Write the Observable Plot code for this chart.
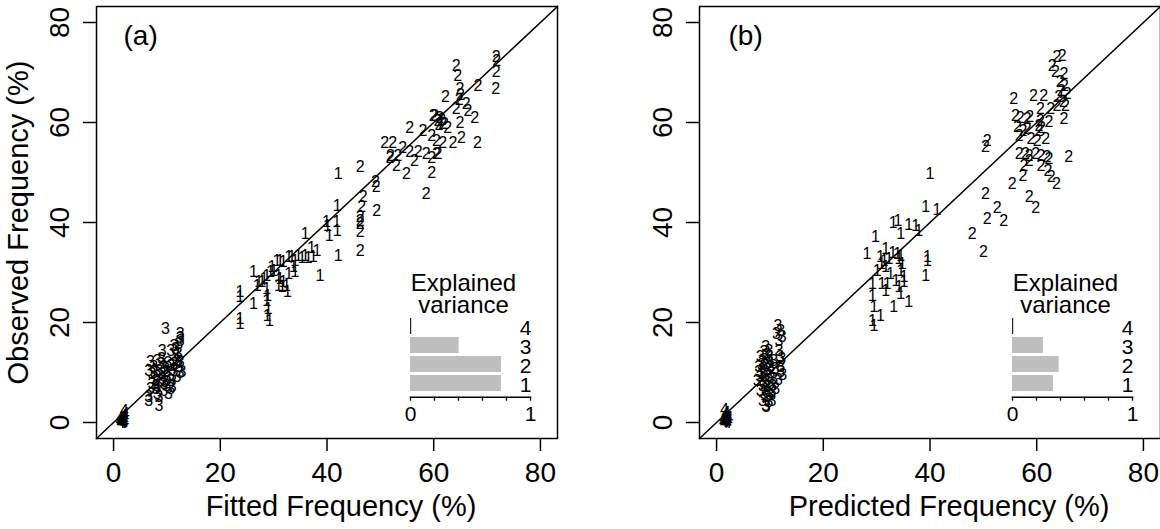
<!DOCTYPE html>
<html><head><meta charset="utf-8">
<script src="https://cdn.jsdelivr.net/npm/d3@7"></script>
<script src="https://cdn.jsdelivr.net/npm/@observablehq/plot@0.6"></script>
<style>
body{margin:0;background:#fff;}
#wrap{position:relative;width:1160px;height:529px;overflow:hidden;background:#fff;}
#row{display:flex;}
#row svg{display:block;}
.inset{position:absolute;}
.inset svg{display:block;}
</style></head><body>
<div id="wrap"><div id="row"></div></div>
<script>
const FONT = '"Liberation Sans", Arial, Helvetica, sans-serif';
const axisTicks = [0, 20, 40, 60, 80];
const axisDomain = [-3.2, 83.2];
const components = ["4", "3", "2", "1"];
const varianceA = [0.01, 0.405, 0.758, 0.758];
const varianceB = [0.01, 0.258, 0.389, 0.342];
const insetTicks = [0, 0.2, 0.4, 0.6, 0.8, 1];
const panelTags = ["(a)", "(b)"];
const xTitles = ["Fitted Frequency (%)", "Predicted Frequency (%)"];
const yTitle = "Observed Frequency (%)";
const insetTitle = "Explained\nvariance";

// Panel (a): [fitted, observed]
const a1 = [[42.1,49.7],[41.9,43.4],[41.8,40.1],[41.9,38.4],[39.9,40.1],[40.1,39.4],[40.4,37.4],[35.9,37.7],[42.1,33.4],[38.7,29.4],
 [38.1,34.3],[37.1,34.9],[37.4,33.1],[36.5,32.9],[35.9,33.4],[35.3,32.9],[34.6,33.4],[34.0,32.4],[33.4,33.1],[32.8,33.1],
 [33.7,31.1],[34.0,30.1],[32.8,29.8],[32.4,27.4],[32.6,26.1],[31.8,32.1],[31.2,32.4],[30.6,32.4],[30.9,29.4],[31.2,28.7],
 [31.6,27.1],[30.9,27.4],[31.8,28.1],[29.7,31.1],[30.0,30.4],[29.4,30.1],[28.7,29.4],[28.2,28.8],[27.8,28.1],[27.2,28.1],
 [26.9,27.4],[28.7,26.7],[28.9,25.4],[28.7,24.4],[29.0,22.7],[28.8,21.4],[29.2,20.4],[26.2,30.1],[26.2,23.7],[23.7,26.1],
 [23.7,25.1],[23.7,20.7],[23.7,19.7]];
const a2 = [[71.7,73.2],[71.8,72.4],[64.2,71.4],[64.5,69.4],[71.7,70.2],[68.3,67.4],[71.6,66.8],[64.9,66.7],[62.2,65.2],[65.0,65.5],
 [64.8,64.6],[66.1,63.8],[64.2,62.8],[66.4,62.4],[67.7,61.0],[64.9,60.0],[60.2,61.4],[61.1,61.0],[60.8,60.3],[61.5,60.6],
 [62.0,59.8],[61.0,59.5],[62.6,59.0],[59.9,61.4],[61.7,59.7],[55.5,59.0],[58.0,58.4],[59.6,57.4],[50.8,56.0],[52.3,56.0],
 [61.7,56.0],[63.6,56.0],[65.2,57.0],[68.2,56.0],[60.5,56.4],[54.2,55.0],[55.5,54.1],[57.1,54.1],[58.6,53.7],[60.8,53.7],
 [51.8,53.0],[51.9,53.4],[53.3,53.4],[56.4,52.4],[59.6,53.0],[60.5,53.8],[53.0,51.4],[54.9,49.8],[59.6,50.0],[58.6,45.8],
 [46.2,51.1],[49.1,48.1],[49.2,47.1],[46.8,45.1],[46.5,43.1],[49.3,42.4],[46.2,41.1],[46.2,40.4],[46.2,39.7],[46.2,38.1],[46.2,34.4]];
const a3 = [[9.7,18.7],[12.5,17.7],[12.5,17.0],[12.5,16.3],[12.2,15.8],[9.1,14.4],[11.6,14.8],[12.1,13.8],[11.6,13.4],[10.7,14.4],
 [11.3,15.4],[6.9,12.1],[7.5,11.1],[6.6,10.4],[7.2,9.7],[8.2,9.1],[8.8,8.4],[7.2,7.7],[7.9,6.7],[8.2,5.7],
 [8.5,5.1],[9.4,6.4],[10.0,7.4],[10.7,8.4],[11.0,9.4],[11.3,10.4],[12.2,11.1],[12.8,10.1],[12.5,12.1],[11.9,12.4],
 [10.7,11.4],[9.7,10.7],[9.1,9.7],[10.0,9.1],[9.4,7.7],[10.7,6.7],[10.3,5.7],[6.9,6.7],[6.6,5.1],[6.6,4.4],
 [8.5,3.4],[11.3,11.7],[8.8,11.7],[8.2,12.4],[8.5,10.4],[9.4,11.1],[10.0,10.1],[9.1,8.7],[7.9,8.4],[11.0,7.1],
 [11.9,9.1],[12.5,10.0],[9.0,12.8],[10.2,12.0],[7.6,10.0],[8.0,7.4],[9.6,8.2]];
const a4 = [[1.2,0.3],[1.5,0.6],[1.8,0.2],[2.0,0.5],[1.4,0.0],[1.7,0.0],[2.1,0.1],[1.6,1.0],[1.9,1.3],[2.2,1.8],
 [2.0,2.4],[1.3,0.9],[1.8,0.8],[2.1,1.1],[1.5,0.2],[1.9,0.0]];

// Panel (b): [predicted, observed]
const b1 = [[40.0,49.7],[39.2,43.1],[41.3,42.5],[33.1,39.9],[34.0,40.4],[36.0,39.6],[37.3,39.4],[37.9,38.4],[34.5,37.7],[29.8,37.1],
 [28.2,33.7],[31.7,34.7],[30.7,33.1],[32.3,32.7],[33.9,33.7],[34.2,32.7],[34.8,31.7],[39.5,33.1],[39.5,32.4],[39.2,29.4],
 [31.7,31.1],[32.6,29.7],[31.0,27.7],[32.0,27.7],[34.5,30.4],[35.1,29.1],[34.2,27.1],[35.1,28.1],[29.2,27.7],[29.2,25.4],
 [29.5,23.1],[29.2,20.4],[30.7,21.4],[29.5,19.4],[33.2,23.1],[36.0,24.1],[34.5,25.7],[31.7,26.4],[30.1,30.4],[30.9,31.7],
 [34.5,33.4],[33.0,33.9],[31.4,32.4],[33.6,28.4]];
const b2 = [[63.8,73.1],[64.8,73.4],[62.9,71.4],[63.5,70.1],[65.1,69.7],[64.4,68.1],[65.2,67.4],[64.6,66.4],[65.7,65.8],[64.1,65.1],
 [65.0,64.1],[63.8,63.4],[65.4,63.4],[55.7,64.7],[59.4,65.4],[61.3,65.4],[60.7,62.7],[62.6,62.7],[65.1,60.7],[56.0,61.4],
 [56.9,61.0],[58.2,60.7],[58.7,61.1],[60.7,60.4],[62.3,60.1],[60.4,59.4],[60.4,58.4],[60.9,59.0],[56.4,59.1],[57.4,58.4],
 [58.2,58.7],[56.7,57.4],[58.9,56.7],[60.1,56.4],[61.7,56.7],[50.7,56.4],[50.4,55.1],[56.7,53.7],[57.9,53.7],[58.6,53.4],
 [59.8,53.7],[60.8,53.4],[61.9,53.1],[62.3,52.7],[66.0,53.1],[58.6,52.4],[57.6,51.4],[57.4,49.4],[60.8,51.4],[62.1,50.4],
 [62.7,49.1],[63.7,47.7],[55.4,47.7],[50.4,45.7],[58.6,45.2],[59.8,42.9],[52.6,43.0],[50.7,40.7],[53.8,40.4],[47.9,37.7],[50.0,34.1]];
const b3 = [[11.5,19.4],[12.0,18.4],[11.2,17.7],[12.3,17.1],[11.7,16.4],[11.7,14.4],[11.9,13.1],[12.0,11.1],[12.0,10.1],[9.2,15.1],
 [8.9,14.1],[8.2,13.1],[9.8,14.4],[8.6,12.1],[7.9,11.1],[9.5,11.7],[10.1,11.1],[8.9,10.4],[8.2,9.1],[9.8,9.4],
 [9.2,8.1],[8.6,7.4],[9.5,7.1],[10.1,7.7],[8.9,5.7],[9.5,5.1],[8.6,4.4],[9.2,3.4],[10.4,6.1],[10.7,8.7],
 [10.7,12.4],[9.8,13.1],[7.9,10.1],[7.6,8.4],[8.2,6.4],[9.8,4.1],[10.4,4.4],[11.1,6.7],[9.3,3.1],[9.0,12.6],
 [9.6,10.6],[8.5,9.8],[10.2,9.9],[9.1,6.6],[10.0,5.6],[8.8,8.0],[9.9,12.0],[11.0,10.8],[8.4,11.6],[9.4,13.6],
 [10.5,7.3],[12.2,12.8],[12.4,9.6],[11.6,8.6]];
const b4 = [[1.5,2.6],[1.8,2.0],[1.6,1.5],[2.0,1.2],[1.4,0.8],[1.9,0.6],[1.3,0.2],[1.7,0.1],[2.2,0.4],[1.5,0.0],
 [2.0,0.0],[1.8,1.0],[2.3,0.9],[1.6,0.4]];

const groupLabels = ["1", "2", "3", "4"];

function panel({groups, tag, xTitle, showYTitle, marginLeft, marginRight, xTitleDx, tagDx}) {
  const marks = [
    Plot.frame({stroke: "black", strokeWidth: 1.5}),
    Plot.line(axisDomain.map(v => [v, v]), {stroke: "black", strokeWidth: 1.5})
  ];
  groups.forEach((g, i) => {
    marks.push(Plot.text(g, {x: d => d[0], y: d => d[1], text: () => groupLabels[i], fontSize: 16, fill: "black"}));
  });
  marks.push(
    Plot.axisX({ticks: axisTicks, tickSize: 13, tickPadding: 11, fontSize: 28, strokeWidth: 1.5, label: null}),
    Plot.axisY({ticks: axisTicks, tickSize: 13, tickPadding: 15, tickRotate: -90, fontSize: 28, strokeWidth: 1.5, label: null}),
    Plot.text([xTitle], {text: d => d, frameAnchor: "bottom", dy: 68.7, dx: xTitleDx, textAnchor: "middle", lineAnchor: "middle", fontSize: 29, fill: "black"}),
    Plot.text([tag], {text: d => d, frameAnchor: "top-left", dx: tagDx, dy: 19, textAnchor: "start", lineAnchor: "top", fontSize: 28, fill: "black"})
  );
  if (showYTitle) {
    marks.push(Plot.text([yTitle], {text: d => d, frameAnchor: "left", dx: -77.8, rotate: -90, textAnchor: "middle", lineAnchor: "middle", fontSize: 29, fill: "black"}));
  }
  return Plot.plot({
    width: 580, height: 529,
    marginTop: 6, marginBottom: 91, marginLeft, marginRight,
    x: {domain: axisDomain}, y: {domain: axisDomain},
    style: {fontFamily: FONT, color: "black", background: "transparent", overflow: "visible"},
    marks
  });
}

function inset(values) {
  const data = components.map((c, i) => ({c, v: values[i]}));
  return Plot.plot({
    width: 170, height: 160,
    marginLeft: 30, marginRight: 20, marginTop: 43.5, marginBottom: 33.3,
    x: {domain: [0, 1]},
    y: {domain: components, type: "band", padding: 0.18, insetBottom: 2, axis: null},
    color: {type: "identity"},
    style: {fontFamily: FONT, color: "black", background: "transparent", overflow: "visible"},
    marks: [
      Plot.barX(data, {x: "v", y: "c", fill: d => d.v < 0.02 ? "#222222" : "#bebebe"}),
      Plot.text(data, {x: () => 1, y: "c", text: "c", textAnchor: "end", dx: 1, dy: 2, fontSize: 21, fill: "black"}),
      Plot.frame({anchor: "bottom", stroke: "black", strokeWidth: 1.5}),
      Plot.axisX({ticks: insetTicks, tickSize: 4, tickPadding: 5, fontSize: 21, strokeWidth: 1.3,
        tickFormat: d => (d === 0 || d === 1) ? String(d) : "", label: null}),
      Plot.text([insetTitle], {text: d => d, frameAnchor: "top", dx: -7, dy: -1, textAnchor: "middle", lineAnchor: "bottom", lineHeight: 0.92, fontSize: 24, fill: "black"})
    ]
  });
}

const row = document.getElementById("row");
row.appendChild(panel({groups: [a1, a2, a3, a4], tag: panelTags[0], xTitle: xTitles[0], showYTitle: true,
  marginLeft: 96, marginRight: 23, xTitleDx: 14, tagDx: 27}));
row.appendChild(panel({groups: [b1, b2, b3, b4], tag: panelTags[1], xTitle: xTitles[1], showYTitle: false,
  marginLeft: 119, marginRight: 0, xTitleDx: 19, tagDx: 29}));

const wrap = document.getElementById("wrap");
[[varianceA, 380], [varianceB, 982]].forEach(([vals, left]) => {
  const d = document.createElement("div");
  d.className = "inset";
  d.style.left = left + "px";
  d.style.top = "270px";
  d.appendChild(inset(vals));
  wrap.appendChild(d);
});
</script>
</body></html>
